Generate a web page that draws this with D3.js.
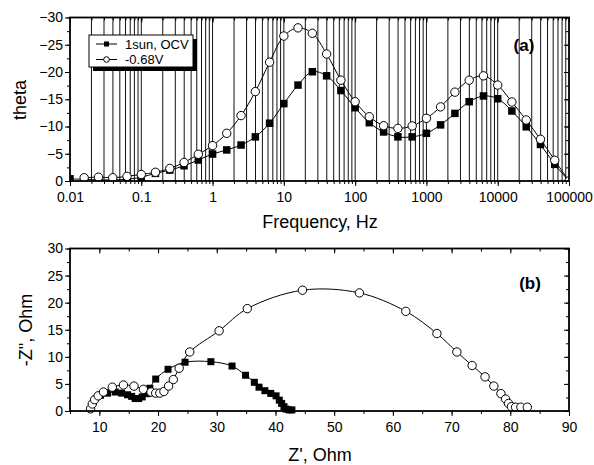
<!DOCTYPE html>
<html>
<head>
<meta charset="utf-8">
<script src="https://cdn.jsdelivr.net/npm/d3@7"></script>
<style>
  body { margin: 0; background: #fff; }
  svg { font-family: "Liberation Sans", Arial, sans-serif; }
  .tick text { font-size: 14px; fill: #000; }
  .tick line { stroke: #000; stroke-width: 1; }
  .domain { display: none; }
  .title { font-size: 18px; fill: #000; }
  .panel { font-size: 17px; font-weight: bold; }
  .legend text { font-size: 13px; }
</style>
</head>
<body>
<div id="chart"></div>
<script>
// ---- data (a): Bode phase plot ----
var freq = [0.01, 0.0158, 0.0251, 0.0398, 0.0631, 0.1, 0.158, 0.251, 0.398, 0.631,
            1, 1.58, 2.51, 3.98, 6.31, 10, 15.8, 25.1, 39.8, 63.1,
            100, 158, 251, 398, 631, 1000, 1580, 2510, 3980, 6310,
            10000, 15800, 25100, 39800, 63100, 100000];
var thetaOCV = [-0.4, -0.3, -0.2, -0.2, -0.3, -0.7, -1.4, -2.0, -2.8, -3.85,
                -4.95, -5.7, -6.6, -8.1, -10.6, -14.2, -17.6, -20.05, -19.3, -16.6,
                -13.45, -10.7, -9.0, -8.1, -8.1, -8.75, -10.3, -12.4, -14.55, -15.6,
                -15.1, -12.85, -9.95, -6.7, -3.05, 0];
var thetaBias = [null, -0.6, -0.7, -0.6, -0.85, -1.2, -1.6, -2.3, -3.4, -4.9,
                 -6.5, -8.75, -12.0, -16.4, -21.8, -26.6, -28.1, -27.1, -23.3, -18.5,
                 -14.55, -11.8, -10.15, -9.65, -10.1, -11.5, -13.6, -16.3, -18.5, -19.3,
                 -17.6, -14.5, -11.2, -7.65, -3.8, 0];
var freqTicks = [0.01, 0.1, 1, 10, 100, 1000, 10000, 100000];
var thetaTicks = [0, -5, -10, -15, -20, -25, -30];

// ---- data (b): Nyquist plot, [Z', -Z''] ----
var nyqOCV = [[10.2, 2.9], [11.4, 3.3], [12.7, 3.5], [13.8, 3.3], [14.8, 3.0], [15.5, 2.7],
              [16.1, 2.3], [16.7, 2.3], [17.3, 2.6], [18.1, 3.2], [18.6, 4.2], [19.6, 5.9],
              [21.7, 7.7], [24.6, 9.0], [29.0, 9.1], [32.6, 8.3], [34.9, 6.6], [36.4, 5.3],
              [37.2, 4.4], [38.2, 3.75], [39.2, 3.25], [40.1, 2.8], [40.65, 2.0], [41.05, 1.4],
              [41.45, 0.8], [41.8, 0.35], [42.3, 0.2], [42.8, 0.2]];
var nyqBias = [[8.5, 0.4], [8.8, 1.3], [9.2, 2.1], [9.8, 2.8], [10.7, 3.5], [12.2, 4.4],
               [14.1, 4.8], [15.9, 4.6], [17.5, 4.0], [18.8, 3.5], [19.6, 3.3], [20.3, 3.3],
               [21.0, 3.6], [21.8, 4.6], [22.6, 5.8], [23.6, 7.9], [25.4, 10.9], [30.4, 14.8],
               [35.2, 18.9], [44.6, 22.3], [54.3, 21.8], [62.2, 18.4], [67.5, 14.3], [70.9, 10.9],
               [73.5, 8.4], [75.7, 6.3], [77.2, 4.6], [78.4, 3.2], [79.2, 2.2], [79.7, 1.4],
               [80.2, 0.8], [80.9, 0.7], [81.8, 0.7], [82.9, 0.7]];
var zreTicks = [10, 20, 30, 40, 50, 60, 70, 80, 90];
var zimTicks = [0, 5, 10, 15, 20, 25, 30];
var seriesNames = ['1sun, OCV', '-0.68V'];

var W = 594, H = 465;
var svg = d3.select('#chart').append('svg').attr('width', W).attr('height', H);

var left = 70, right = 569;

function drawSquares(g, pts, size) {
    g.selectAll('rect.pt').data(pts).enter().append('rect').attr('class', 'pt')
        .attr('x', function(p) { return p[0] - size / 2; })
        .attr('y', function(p) { return p[1] - size / 2; })
        .attr('width', size).attr('height', size).attr('fill', '#000');
}
function drawCircles(g, pts, r) {
    g.selectAll('circle.pt').data(pts).enter().append('circle').attr('class', 'pt')
        .attr('cx', function(p) { return p[0]; })
        .attr('cy', function(p) { return p[1]; })
        .attr('r', r).attr('fill', '#fff').attr('stroke', '#000').attr('stroke-width', 1);
}

var line = d3.line().curve(d3.curveCatmullRom.alpha(0.5));

// ================= panel (a) =================
var topA = 17.5, botA = 181;
var xA = d3.scaleLog().domain([0.01, 100000]).range([left, right]);
var yA = d3.scaleLinear().domain([0, -30]).range([botA, topA]);

svg.append('defs').append('clipPath').attr('id', 'clipA')
    .append('rect').attr('x', left).attr('y', topA).attr('width', right - left).attr('height', botA - topA);

// vertical log grid
var allLog = xA.ticks();
svg.append('g').selectAll('line.grid').data(allLog.filter(function(f) { return f > 0.01 && f < 100000; }))
    .enter().append('line').attr('class', 'grid')
    .attr('x1', function(f) { return xA(f); }).attr('x2', function(f) { return xA(f); })
    .attr('y1', topA).attr('y2', botA)
    .attr('stroke', '#111').attr('stroke-width', 1);

var minorTheta = d3.range(0, -30.1, -2.5);
var axA = svg.append('g');
axA.append('g').attr('transform', 'translate(' + left + ',0)')
    .call(d3.axisLeft(yA).tickValues(thetaTicks).tickSize(5).tickSizeOuter(0).tickPadding(2));
axA.append('g').attr('transform', 'translate(' + left + ',0)')
    .call(d3.axisLeft(yA).tickValues(minorTheta).tickSize(3).tickSizeOuter(0).tickFormat(''));
axA.append('g').attr('transform', 'translate(' + right + ',0)')
    .call(d3.axisRight(yA).tickValues(thetaTicks).tickSize(-5).tickSizeOuter(0).tickFormat(''));
axA.append('g').attr('transform', 'translate(' + right + ',0)')
    .call(d3.axisRight(yA).tickValues(minorTheta).tickSize(-3).tickSizeOuter(0).tickFormat(''));
axA.append('g').attr('transform', 'translate(0,' + botA + ')')
    .call(d3.axisBottom(xA).tickValues(freqTicks).tickSize(5).tickSizeOuter(0).tickPadding(6)
        .tickFormat(function(f) { return f < 1 ? String(f) : d3.format('d')(f); }));
axA.append('g').attr('transform', 'translate(0,' + botA + ')')
    .call(d3.axisBottom(xA).tickValues(allLog).tickSize(3).tickSizeOuter(0).tickFormat(''));
axA.append('g').attr('transform', 'translate(0,' + topA + ')')
    .call(d3.axisTop(xA).tickValues(freqTicks).tickSize(-5).tickSizeOuter(0).tickFormat(''));
axA.append('g').attr('transform', 'translate(0,' + topA + ')')
    .call(d3.axisTop(xA).tickValues(allLog).tickSize(-3).tickSizeOuter(0).tickFormat(''));

var plotA = svg.append('g').attr('clip-path', 'url(#clipA)');
var ptsOCV = freq.map(function(f, i) { return [xA(f), yA(thetaOCV[i])]; });
var ptsBias = freq.map(function(f, i) { return thetaBias[i] == null ? null : [xA(f), yA(thetaBias[i])]; })
    .filter(function(p) { return p != null; });
plotA.append('path').attr('d', line(ptsOCV)).attr('fill', 'none').attr('stroke', '#000').attr('stroke-width', 1);
plotA.append('path').attr('d', line(ptsBias)).attr('fill', 'none').attr('stroke', '#000').attr('stroke-width', 1);
drawSquares(plotA.append('g'), ptsOCV, 7.5);
drawCircles(plotA.append('g'), ptsBias, 4.2);

svg.append('rect').attr('x', left).attr('y', topA).attr('width', right - left).attr('height', botA - topA)
    .attr('fill', 'none').attr('stroke', '#000').attr('stroke-width', 1.8);

// legend
var lg = svg.append('g').attr('class', 'legend');
lg.append('rect').attr('x', 93).attr('y', 39).attr('width', 104).attr('height', 32).attr('fill', '#000');
lg.append('rect').attr('x', 89).attr('y', 35).attr('width', 104).attr('height', 32)
    .attr('fill', '#fff').attr('stroke', '#000').attr('stroke-width', 1);
[44, 59.5].forEach(function(yy, i) {
    lg.append('line').attr('x1', 96).attr('x2', 117).attr('y1', yy).attr('y2', yy)
        .attr('stroke', '#000').attr('stroke-width', 1);
    lg.append('text').attr('x', 125).attr('y', yy + 4.5).text(seriesNames[i]);
});
drawSquares(lg.append('g'), [[106.5, 44]], 5);
drawCircles(lg.append('g'), [[106.5, 59.5]], 2.8);

svg.append('text').attr('class', 'panel').attr('x', 524).attr('y', 51).attr('text-anchor', 'middle').text('(a)');
svg.append('text').attr('class', 'title').attr('transform', 'translate(26,100) rotate(-90)')
    .attr('text-anchor', 'middle').text('theta');
svg.append('text').attr('class', 'title').attr('x', 320).attr('y', 228).attr('text-anchor', 'middle').text('Frequency, Hz');

// ================= panel (b) =================
var topB = 248.5, botB = 411;
var xB = d3.scaleLinear().domain([5, 90]).range([left, right]);
var yB = d3.scaleLinear().domain([0, 30]).range([botB, topB]);
var minorZre = d3.range(5, 90.1, 5);
var minorZim = d3.range(0, 30.1, 2.5);

var axB = svg.append('g');
axB.append('g').attr('transform', 'translate(' + left + ',0)')
    .call(d3.axisLeft(yB).tickValues(zimTicks).tickSize(5).tickSizeOuter(0).tickPadding(2));
axB.append('g').attr('transform', 'translate(' + left + ',0)')
    .call(d3.axisLeft(yB).tickValues(minorZim).tickSize(3).tickSizeOuter(0).tickFormat(''));
axB.append('g').attr('transform', 'translate(' + right + ',0)')
    .call(d3.axisRight(yB).tickValues(zimTicks).tickSize(-5).tickSizeOuter(0).tickFormat(''));
axB.append('g').attr('transform', 'translate(' + right + ',0)')
    .call(d3.axisRight(yB).tickValues(minorZim).tickSize(-3).tickSizeOuter(0).tickFormat(''));
axB.append('g').attr('transform', 'translate(0,' + botB + ')')
    .call(d3.axisBottom(xB).tickValues(zreTicks).tickSize(5).tickSizeOuter(0).tickPadding(6));
axB.append('g').attr('transform', 'translate(0,' + botB + ')')
    .call(d3.axisBottom(xB).tickValues(minorZre).tickSize(3).tickSizeOuter(0).tickFormat(''));
axB.append('g').attr('transform', 'translate(0,' + topB + ')')
    .call(d3.axisTop(xB).tickValues(zreTicks).tickSize(-5).tickSizeOuter(0).tickFormat(''));
axB.append('g').attr('transform', 'translate(0,' + topB + ')')
    .call(d3.axisTop(xB).tickValues(minorZre).tickSize(-3).tickSizeOuter(0).tickFormat(''));

var plotB = svg.append('g');
var nOCV = nyqOCV.map(function(p) { return [xB(p[0]), yB(p[1])]; });
var nBias = nyqBias.map(function(p) { return [xB(p[0]), yB(p[1])]; });
plotB.append('path').attr('d', line(nOCV)).attr('fill', 'none').attr('stroke', '#000').attr('stroke-width', 1);
plotB.append('path').attr('d', line(nBias.slice(0, nBias.length - 3))).attr('fill', 'none')
    .attr('stroke', '#000').attr('stroke-width', 1);
drawSquares(plotB.append('g'), nOCV, 7);
drawCircles(plotB.append('g'), nBias, 4.2);

svg.append('rect').attr('x', left).attr('y', topB).attr('width', right - left).attr('height', botB - topB)
    .attr('fill', 'none').attr('stroke', '#000').attr('stroke-width', 1.8);

svg.append('text').attr('class', 'panel').attr('x', 530).attr('y', 289).attr('text-anchor', 'middle').text('(b)');
svg.append('text').attr('class', 'title').attr('transform', 'translate(32,330) rotate(-90)')
    .attr('text-anchor', 'middle').text('-Z", Ohm');
svg.append('text').attr('class', 'title').attr('x', 320).attr('y', 461).attr('text-anchor', 'middle').text("Z', Ohm");
</script>
</body>
</html>
